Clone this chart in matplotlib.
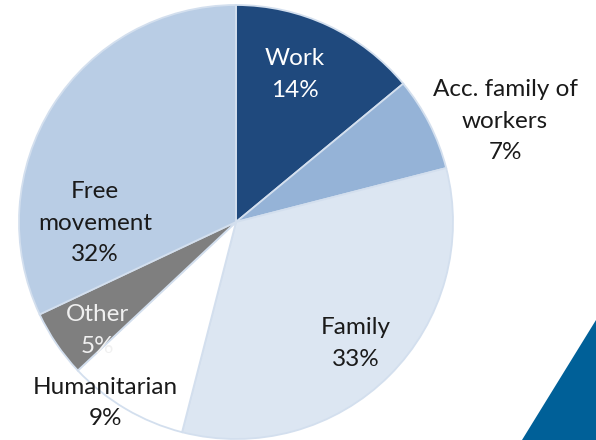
import matplotlib.pyplot as plt
from matplotlib.patches import Polygon

categories = ["Work", "Acc. family of\nworkers", "Family", "Humanitarian", "Other", "Free\nmovement"]
shares = [14, 7, 33, 9, 5, 32]
colors = ["#1f497d", "#95b3d7", "#dce6f2", "#ffffff", "#7f7f7f", "#b9cde5"]
text_colors = ["white", "#1a1a1a", "#1a1a1a", "#1a1a1a", "#f0f0f0", "#1a1a1a"]
# label centres, in pie radius units from the centre
label_xy = [(0.27, 0.68), (1.24, 0.465), (0.55, -0.56), (-0.60, -0.835), (-0.64, -0.50), (-0.65, -0.005)]

plt.rcParams['font.family'] = ['Lato', 'DejaVu Sans']

fig = plt.figure(figsize=(5.96, 4.40), dpi=100)
ax = fig.add_axes([0, 0, 1, 1])

ax.pie(shares, colors=colors, startangle=90, counterclock=False, radius=1.0,
       wedgeprops=dict(edgecolor="#d3dfee", linewidth=1.3))

for cat, val, (lx, ly), tc in zip(categories, shares, label_xy, text_colors):
    ax.text(lx, ly, "%s\n%d%%" % (cat, val), ha="center", va="center",
            fontsize=17.5, color=tc, linespacing=1.62)

ax.set_xlim(-236 / 217, (596 - 236) / 217)
ax.set_ylim(-218 / 217, 222 / 217)
ax.set_aspect("auto")
ax.axis("off")

# corner accent
fig.patches.append(Polygon([(522 / 596, 0), (1, 1 - 320 / 440), (1, 0)],
                           closed=True, transform=fig.transFigure,
                           facecolor="#006098", edgecolor="none"))

fig.savefig("out.png", dpi=100)
